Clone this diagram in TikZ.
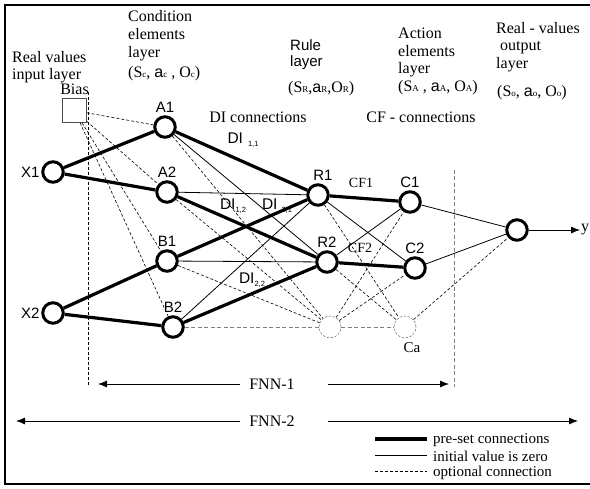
\documentclass[tikz,border=0pt]{standalone}
\usepackage{fontspec}
\setmainfont{Liberation Serif}
\setsansfont{Liberation Sans}
\usetikzlibrary{arrows.meta}

\newcommand{\sml}[1]{{\fontsize{9}{9}\selectfont #1}}
\newcommand{\disub}[1]{\raisebox{-3pt}{\fontsize{7.5}{7.5}\selectfont #1}}

\begin{document}
\begin{tikzpicture}[x=1pt,y=-1pt,
  neuron/.style={circle,draw,fill=white,line width=3pt,minimum size=20.5pt,inner sep=0pt},
  optneuron/.style={circle,draw=gray,dash pattern=on 2.5pt off 1.5pt,line width=0.6pt,fill=white,minimum size=22pt,inner sep=0pt},
  preset/.style={line width=3.2pt},
  zero/.style={line width=0.8pt},
  optional/.style={dash pattern=on 3pt off 2pt,line width=0.6pt},
  greyopt/.style={draw=gray,dash pattern=on 4pt off 2.5pt,line width=0.9pt},
  nname/.style={font=\sffamily\fontsize{15}{15}\selectfont,inner sep=0.5pt},
  txt/.style={font=\fontsize{16}{17.5}\selectfont,inner sep=0pt,align=left},
  keytxt/.style={font=\fontsize{15}{15}\selectfont,inner sep=0pt,anchor=west},
  farrow/.style={-{Latex[length=9pt,width=7pt]},line width=0.8pt}]
\useasboundingbox (0,0) rectangle (590,489);
\draw[line width=1.4pt] (592,5) -- (5,5) -- (5,484) -- (592,484);

% layer headings
\node[txt,anchor=north west] at (12,51) {Real values\\input layer};
\node[txt,anchor=north west,font=\fontsize{16}{18}\selectfont] at (128,10) {Condition\\elements\\layer};
\node[txt,anchor=base west] at (128,78) {(S\sml{c}, \textsf{a}\sml{c} , O\sml{c})};
\node[txt,anchor=north west,font=\sffamily\fontsize{15}{16}\selectfont] at (290,39) {Rule\\layer};
\node[txt,anchor=base west] at (288,93) {(S\sml{R},\textsf{a}\sml{R},O\sml{R})};
\node[txt,anchor=north west] at (398,28) {Action\\elements\\layer};
\node[txt,anchor=base west] at (398,92) {(S\sml{A} , \textsf{a}\sml{A}, O\sml{A})};
\node[txt,anchor=north west] at (496,22) {Real - values\\\ output\\layer};
\node[txt,anchor=base west] at (497,97) {(S\sml{o}, \textsf{a}\sml{o}, O\sml{o})};
\node[txt] (dicon) at (258,117) {DI connections};
\node[txt] (cfcon) at (421,117) {CF - connections};

% neurons
\node[neuron,label={[nname,label distance=1pt]left:X1}] (X1) at (53,172) {};
\node[neuron,label={[nname,label distance=1pt]left:X2}] (X2) at (53,313) {};
\node[draw=black!70,line width=0.6pt,minimum size=24pt,inner sep=0pt,
  label={[txt,label distance=3pt]above:Bias}] (bias) at (74.5,110.5) {};
\node[neuron,label={[nname,label distance=2pt]above:A1}] (A1) at (165,127) {};
\node[neuron,label={[nname,label distance=2pt]above:A2}] (A2) at (167,192) {};
\node[neuron,label={[nname,label distance=2pt]above:B1}] (B1) at (167,261) {};
\node[neuron,label={[nname,label distance=2pt]above:B2}] (B2) at (173,327) {};
\node[neuron,label={[nname,label distance=2pt,xshift=5pt]above:R1}] (R1) at (318,195) {};
\node[neuron,label={[nname,label distance=2pt]above:R2}] (R2) at (327,262) {};
\node[optneuron] (Rn) at (330,327) {};
\node[neuron,label={[nname,label distance=2pt]above:C1}] (C1) at (410,202) {};
\node[neuron,label={[nname,label distance=2pt]above:C2}] (C2) at (415,268) {};
\node[optneuron,label={[txt,font=\fontsize{15}{15}\selectfont,label distance=4pt,xshift=7pt]below:Ca}] (Ca) at (405,327) {};
\node[neuron] (out) at (517,230) {};
\node[txt,anchor=west,inner sep=1pt] (ylab) at (580,230) {y};

% connections
\foreach \a/\b in {X1/A1,X1/A2,X2/B1,X2/B2,A1/R1,A2/R2,B1/R1,B2/R2,R1/C1,R2/C2}
  \draw[preset] (\a) -- (\b);
\foreach \a/\b in {A2/R1,A1/R2,B1/R2,B2/R1,R1/C2,R2/C1,C1/out,C2/out}
  \draw[zero] (\a) -- (\b);
\foreach \a/\b in {bias/A1,bias/A2,bias/B1,bias/B2,A1/Rn,A2/Rn,B1/Rn,R1/Ca,R2/Ca,Rn/C1,Rn/C2,Ca/out}
  \draw[optional] (\a) -- (\b);
\draw[greyopt] (B2) -- (Rn);
\draw[greyopt] (Rn) -- (Ca);
\draw[farrow] (out) -- (out -| ylab.west);

% weight labels
\node[nname,font=\sffamily\fontsize{15.5}{15.5}\selectfont] (di11) at (243,140) {DI\hspace{5pt}\disub{1,1}};
\node[nname,font=\sffamily\fontsize{15.5}{15.5}\selectfont] (di12) at (233,206) {DI\disub{1,2}};
\node[nname,font=\sffamily\fontsize{15.5}{15.5}\selectfont] (di21) at (277,206) {DI\hspace{4pt}\disub{2,1}};
\node[nname,font=\sffamily\fontsize{15.5}{15.5}\selectfont] (di22) at (252,280) {DI\disub{2,2}};
\node[txt,font=\fontsize{14}{14}\selectfont] (cf1) at (361,183) {CF1};
\node[txt,font=\fontsize{14}{14}\selectfont] (cf2) at (360,248) {CF2};

% FNN-1 and FNN-2 boundaries
\draw[optional] (88,92) -- (88,385);
\draw[greyopt,line width=0.7pt] (454,170) -- (454,387);
\node[txt] (fnn1) at (272,384) {FNN-1};
\coordinate (f1a) at (240,384); \coordinate (f1b) at (98,384);
\coordinate (f1c) at (328,384); \coordinate (f1d) at (449,384);
\draw[farrow] (f1a) -- (f1b);
\draw[farrow] (f1c) -- (f1d);
\node[txt] (fnn2) at (272,421) {FNN-2};
\coordinate (f2a) at (240,421); \coordinate (f2b) at (16,421);
\coordinate (f2c) at (328,421); \coordinate (f2d) at (578,421);
\draw[farrow] (f2a) -- (f2b);
\draw[farrow] (f2c) -- (f2d);

% legend
\node[keytxt] (k1) at (433,440) {pre-set connections};
\node[keytxt] (k2) at (433,456) {initial value is zero};
\node[keytxt] (k3) at (433,473) {optional connection};
\coordinate (k1a) at (375,439); \coordinate (k1b) at (427,439);
\coordinate (k2a) at (375,455); \coordinate (k2b) at (427,455);
\coordinate (k3a) at (375,471); \coordinate (k3b) at (427,471);
\draw[preset] (k1a) -- (k1b);
\draw[zero] (k2a) -- (k2b);
\draw[optional] (k3a) -- (k3b);
\end{tikzpicture}
\end{document}
